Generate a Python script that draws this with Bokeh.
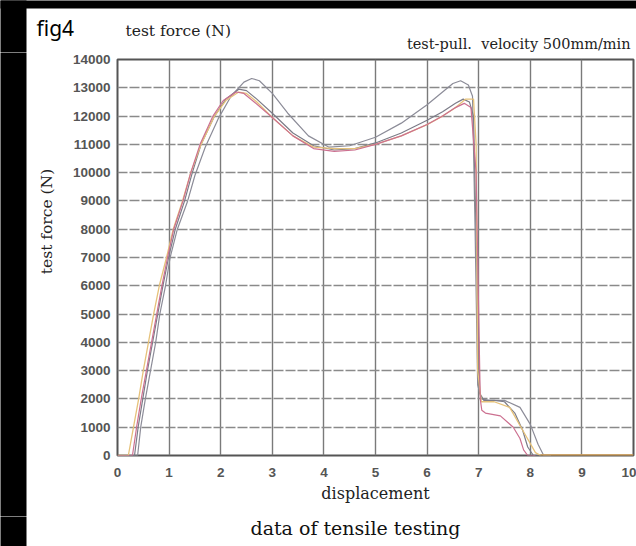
from bokeh.plotting import figure
from bokeh.models import Range1d, Label, FixedTicker, BoxAnnotation
from bokeh.layouts import row, column
from bokeh.embed import file_html
from bokeh.resources import INLINE
from math import pi

# ---- data ----
x_ticks = [0, 1, 2, 3, 4, 5, 6, 7, 8, 9, 10]
y_ticks = [0, 1000, 2000, 3000, 4000, 5000, 6000, 7000, 8000, 9000, 10000, 11000, 12000, 13000, 14000]

c1_x = [0, 0.39, 0.45, 0.54, 0.64, 0.74, 0.82, 0.93, 1.02, 1.16, 1.36, 1.5, 1.7, 1.95, 2.2, 2.45, 2.6, 2.75, 3.0, 3.3,
        3.7, 4.1, 4.5, 5.0, 5.5, 6.0, 6.3, 6.5, 6.65, 6.8, 6.88, 6.93, 6.98, 7.05, 7.2, 7.5, 7.8, 8.0, 8.15, 8.26, 8.4]
c1_y = [0, 0, 1000, 2000, 3000, 4000, 5000, 6000, 7000, 8000, 9000, 9900, 10900, 11900, 12700, 13200, 13330, 13250,
        12800, 12100, 11300, 10900, 10950, 11250, 11750, 12400, 12850, 13150, 13250, 13100, 12700, 8000, 2500, 2000,
        1950, 1950, 1700, 1100, 400, 0, 0]

c2_x = [0, 0.33, 0.40, 0.49, 0.58, 0.68, 0.78, 0.88, 0.99, 1.12, 1.3, 1.45, 1.62, 1.88, 2.1, 2.35, 2.5, 2.7, 3.0, 3.4,
        3.8, 4.2, 4.6, 5.0, 5.5, 6.0, 6.3, 6.55, 6.7, 6.82, 6.9, 6.96, 7.02, 7.1, 7.3, 7.5, 7.7, 7.85, 7.95, 8.06, 8.2]
c2_y = [0, 0, 1000, 2000, 3000, 4000, 5000, 6000, 7000, 8000, 9000, 10000, 11000, 12000, 12600, 12950, 12900, 12600,
        12100, 11400, 10950, 10800, 10850, 11050, 11400, 11850, 12150, 12450, 12600, 12500, 12000, 7000, 2200, 1950,
        1950, 1900, 1500, 900, 300, 0, 0]

c3_x = [0, 0.29, 0.37, 0.46, 0.56, 0.66, 0.76, 0.86, 0.97, 1.09, 1.27, 1.42, 1.6, 1.85, 2.05, 2.3, 2.45, 2.65, 3.0, 3.4,
        3.8, 4.2, 4.6, 5.0, 5.5, 6.0, 6.3, 6.55, 6.72, 6.85, 6.95, 7.0, 7.03, 7.06, 7.13, 7.42, 7.67, 7.8, 7.87, 7.95, 8.1]
c3_y = [0, 0, 1000, 2000, 3000, 4000, 5000, 6000, 7000, 8000, 9000, 10000, 11000, 12000, 12550, 12850, 12800, 12500,
        11950, 11300, 10850, 10750, 10800, 11000, 11300, 11700, 12000, 12300, 12450, 12300, 10000, 5000, 2000, 1600,
        1500, 1400, 1000, 600, 200, 0, 0]

c4_x = [0, 0.21, 0.31, 0.41, 0.50, 0.60, 0.70, 0.81, 0.95, 1.08, 1.26, 1.42, 1.62, 1.88, 2.1, 2.35, 2.5, 2.7, 3.0, 3.4,
        3.8, 4.2, 4.6, 5.0, 5.5, 6.0, 6.3, 6.55, 6.75, 6.9, 6.95, 6.98, 7.05, 7.3, 7.6, 7.85, 8.1, 8.2]
c4_y = [0, 0, 1000, 2000, 3000, 4000, 5000, 6000, 7000, 8000, 9000, 10000, 11000, 12000, 12550, 12850, 12800, 12500,
        11950, 11300, 10900, 10850, 10850, 11000, 11300, 11700, 12000, 12300, 12600, 12600, 11000, 3000, 1900, 1900,
        1700, 900, 100, 0]

tail_x = [8.2, 10]
tail_y = [0, 0]

serif = "DejaVu Serif"


def blank(w, h):
    f = figure(width=w, height=h, x_range=Range1d(0, w), y_range=Range1d(0, h),
               output_backend="svg", toolbar_location=None,
               x_axis_location=None, y_axis_location=None, min_border=0,
               background_fill_color="white", border_fill_color="white")
    f.frame_align = False
    f.outline_line_color = None
    f.grid.visible = False
    # black stripe down the left edge
    f.add_layout(BoxAnnotation(left=-5, right=26, bottom=-5, top=h + 5, fill_color="black",
                               fill_alpha=1.0, line_color=None))
    return f


# ---- header (page y 0..52) ----
header = blank(636, 52)
header.add_layout(BoxAnnotation(left=-5, right=641, bottom=44, top=57, fill_color="black",
                                fill_alpha=1.0, line_color=None))
header.add_layout(Label(x=36, y=25, text="fig4", text_font="Noto Sans", text_font_size="21px",
                        text_color="black", text_baseline="alphabetic"))
header.add_layout(Label(x=125, y=22, text="test force (N)", text_font=serif, text_font_size="15.5px",
                        text_color="#222222", text_baseline="alphabetic"))
header.add_layout(Label(x=630, y=9, text="test-pull.\u00a0\u00a0velocity 500mm/min", text_font=serif,
                        text_font_size="14.5px", text_color="#222222", text_align="right",
                        text_baseline="alphabetic"))

# ---- left strip with the vertical axis title (page y 52..516) ----
left = blank(60, 464)
left.add_layout(Label(x=46, y=295, text="test force (N)", text_font=serif, text_font_size="15.5px",
                      text_color="#222222", text_align="center", text_baseline="middle", angle=pi / 2))

# ---- main chart (page x 60..636, y 52..516) ----
p = figure(width=576, height=464, x_range=Range1d(0, 10), y_range=Range1d(0, 14000),
           output_backend="svg", toolbar_location=None,
           min_border_left=57, min_border_right=3, min_border_top=7, min_border_bottom=61,
           background_fill_color="white", border_fill_color="white")
p.frame_align = False
p.outline_line_color = "#555555"
p.outline_line_width = 2

p.xaxis.ticker = FixedTicker(ticks=x_ticks)
p.yaxis.ticker = FixedTicker(ticks=y_ticks)
for ax in (p.xaxis, p.yaxis):
    ax.axis_line_color = None
    ax.major_tick_line_color = None
    ax.minor_tick_line_color = None
    ax.major_tick_out = 0
    ax.major_tick_in = 0
    ax.major_label_text_font = "Liberation Sans"
    ax.major_label_text_font_style = "bold"
    ax.major_label_text_font_size = "13.5px"
    ax.major_label_text_color = "#555555"
p.xaxis.major_label_standoff = 12
p.yaxis.major_label_standoff = 7
p.xaxis.axis_label = "displacement"
p.xaxis.axis_label_text_font = serif
p.xaxis.axis_label_text_font_style = "normal"
p.xaxis.axis_label_text_font_size = "16px"
p.xaxis.axis_label_text_color = "#222222"
p.xaxis.axis_label_standoff = 4

p.xgrid.ticker = FixedTicker(ticks=x_ticks)
p.ygrid.ticker = FixedTicker(ticks=y_ticks)
p.xgrid.grid_line_color = "#7a7a7a"
p.xgrid.grid_line_width = 1.4
p.ygrid.grid_line_color = "#8a8a8a"
p.ygrid.grid_line_width = 1.3
p.ygrid.grid_line_dash = "10 2"

p.line(c1_x, c1_y, line_color="#8c8c98", line_width=1.2)
p.line(c2_x, c2_y, line_color="#7c7c88", line_width=1.2)
p.line(c4_x, c4_y, line_color="#e6c27a", line_width=1.3)
p.line(c3_x, c3_y, line_color="#cc7090", line_width=1.2)
p.line(tail_x, tail_y, line_color="#d9a255", line_width=2.5)

# ---- footer (page y 516..546) ----
footer = blank(636, 30)
footer.add_layout(Label(x=355, y=19, text="data of tensile testing", text_font=serif,
                        text_font_size="19px", text_color="#111111", text_align="center",
                        text_baseline="middle"))

layout = column(header, row(left, p, spacing=0), footer, spacing=0)

open("out.html", "w").write(file_html(layout, INLINE))
